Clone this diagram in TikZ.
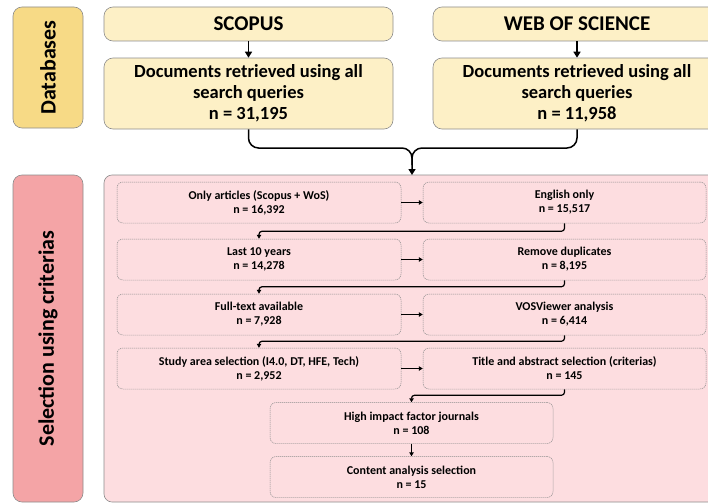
\documentclass[tikz,border=0pt]{standalone}
\usepackage{fontspec}
\setmainfont{Carlito}
\usetikzlibrary{arrows.meta}
\definecolor{goldlbl}{HTML}{F7DA86}
\definecolor{creambox}{HTML}{FDF0C6}
\definecolor{pinklbl}{HTML}{F4A4A6}
\definecolor{pinkarea}{HTML}{FDDDE0}
\definecolor{edgegray}{HTML}{8C8C8C}
\begin{document}
\begin{tikzpicture}[x=1pt,y=-1pt,
  lbl/.style={draw=edgegray, line width=0.6pt, rounded corners=9pt, rotate=90, inner sep=0pt,
    font=\fontsize{22}{26}\selectfont\bfseries},
  dbbox/.style={draw=edgegray, line width=0.6pt, fill=creambox, rounded corners=9pt, inner sep=0pt,
    align=center, font=\fontsize{18.5}{21}\selectfont\bfseries},
  areabox/.style={draw=edgegray, line width=0.6pt, fill=pinkarea, rounded corners=8pt, inner sep=0pt},
  stepbox/.style={draw=edgegray, line width=0.5pt, dash pattern=on 1.2pt off 0.8pt, fill=pinkarea,
    rounded corners=6pt, inner sep=0pt, align=center, font=\fontsize{12}{14}\selectfont\bfseries},
  bigarr/.style={line width=1.5pt, -{Triangle[width=7pt,length=6pt]}},
  smallarr/.style={line width=1.2pt, -{Triangle[width=4.5pt,length=4pt]}}
]
\useasboundingbox (0,0) rectangle (708,503);
\clip (0,0) rectangle (708,503);

% side labels
\node[lbl, fill=goldlbl, minimum width=121pt, minimum height=70pt] (dblbl) at (48,67.5) {Databases};
\node[lbl, fill=pinklbl, minimum width=327pt, minimum height=70pt] (sellbl) at (48,338.5) {Selection using criterias};

% databases
\node[dbbox, font=\fontsize{21}{24}\selectfont\bfseries, minimum width=289pt, minimum height=34pt] (scopus) at (248.5,24) {SCOPUS};
\node[dbbox, font=\fontsize{21}{24}\selectfont\bfseries, minimum width=288pt, minimum height=34pt] (wos) at (577,24) {WEB OF SCIENCE};
\node[dbbox, minimum width=289pt, minimum height=71pt] (docsA) at (248.5,93.5) {Documents retrieved using all\\search queries\\n = 31,195};
\node[dbbox, minimum width=288pt, minimum height=71pt] (docsB) at (577,93.5) {Documents retrieved using all\\search queries\\n = 11,958};

\draw[bigarr] (scopus.south) -- (docsA.north);
\draw[bigarr] (wos.south) -- (docsB.north);

% selection area
\node[areabox, minimum width=626pt, minimum height=327pt] (area) at (417,338.5) {};

\coordinate (merge) at (412,148);
\coordinate (mergeend) at (412,175);
\draw[line width=1.5pt, rounded corners=10pt] (docsA.south) |- (merge) -- (412,165);
\draw[bigarr, rounded corners=10pt] (docsB.south) |- (merge) -- (mergeend);

% steps
\node[stepbox, minimum width=284pt, minimum height=41pt] (L1) at (259,202.5) {Only articles (Scopus + WoS)\\n = 16,392};
\node[stepbox, minimum width=283pt, minimum height=41pt] (R1) at (564.5,202.5) {English only\\n = 15,517};
\node[stepbox, minimum width=284pt, minimum height=41pt] (L2) at (259,259.5) {Last 10 years\\n = 14,278};
\node[stepbox, minimum width=283pt, minimum height=41pt] (R2) at (564.5,259.5) {Remove duplicates\\n = 8,195};
\node[stepbox, minimum width=284pt, minimum height=41pt] (L3) at (259,314.5) {Full-text available\\n = 7,928};
\node[stepbox, minimum width=283pt, minimum height=41pt] (R3) at (564.5,314.5) {VOSViewer analysis\\n = 6,414};
\node[stepbox, minimum width=284pt, minimum height=41pt] (L4) at (259,368.5) {Study area selection (I4.0, DT, HFE, Tech)\\n = 2,952};
\node[stepbox, minimum width=283pt, minimum height=41pt] (R4) at (564.5,368.5) {Title and abstract selection (criterias)\\n = 145};
\node[stepbox, minimum width=283pt, minimum height=41pt] (S5) at (411.5,423) {High impact factor journals\\n = 108};
\node[stepbox, minimum width=283pt, minimum height=41pt] (S6) at (411.5,477) {Content analysis selection\\n = 15};

\draw[smallarr] (L1.east) -- (R1.west);
\draw[smallarr] (L2.east) -- (R2.west);
\draw[smallarr] (L3.east) -- (R3.west);
\draw[smallarr] (L4.east) -- (R4.west);
\draw[smallarr, rounded corners=3pt] (R1.south) -- ++(0,8) -| (L2.north);
\draw[smallarr, rounded corners=3pt] (R2.south) -- ++(0,6.5) -| (L3.north);
\draw[smallarr, rounded corners=3pt] (R3.south) -- ++(0,6) -| (L4.north);
\draw[smallarr, rounded corners=3pt] (R4.south) -- ++(0,6) -| (S5.north);
\draw[smallarr] (S5.south) -- (S6.north);
\end{tikzpicture}
\end{document}
